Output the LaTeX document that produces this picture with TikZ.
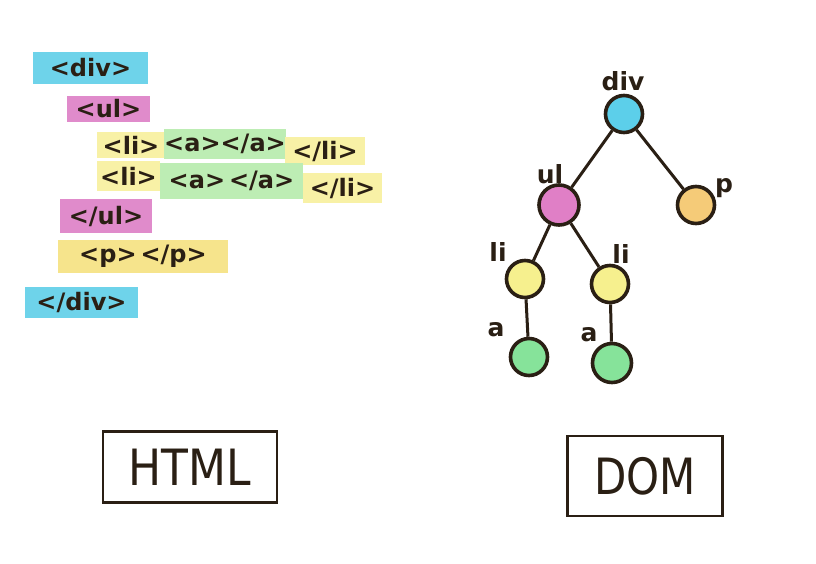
\documentclass[tikz,border=0pt]{standalone}
\usepackage{fontspec}
\setmainfont{DejaVu Sans}
\definecolor{ink}{HTML}{2A1F14}
\definecolor{hcyan}{HTML}{6ED3EA}
\definecolor{hpink}{HTML}{E08BCB}
\definecolor{hyel}{HTML}{F8F1A6}
\definecolor{hgreen}{HTML}{BDEDB4}
\definecolor{hpyel}{HTML}{F6E48C}
\definecolor{ccyan}{HTML}{5CCFEA}
\definecolor{cpink}{HTML}{E07FC6}
\definecolor{corange}{HTML}{F5CB78}
\definecolor{cyel}{HTML}{F6F08E}
\definecolor{cgreen}{HTML}{86E39A}
\tikzset{
  hl/.style={inner sep=0pt, text=ink, font=\fontsize{24}{24}\selectfont\bfseries},
  tnode/.style={circle, draw=ink, line width=3.6pt, minimum size=37pt, inner sep=0pt},
  edge/.style={draw=ink, line width=3pt},
  lab/.style={text=ink, inner sep=0pt, font=\fontsize{25}{25}\selectfont\bfseries},
  bigbox/.style={draw=ink, line width=2.8pt, inner sep=0pt, text=ink, font=\fontsize{40}{40}\selectfont}
}
\begin{document}
\begin{tikzpicture}[x=1pt,y=-1pt]
\useasboundingbox (0,0) rectangle (816,563);
\fill[white] (0,0) rectangle (816,563);
% HTML code highlights
\node[hl, fill=hcyan, minimum width=115pt, minimum height=32pt] (h1) at (90.5,68) {<div>};
\node[hl, fill=hpink, minimum width=83pt, minimum height=26pt] (h2) at (108.5,109) {<ul>};
\node[hl, fill=hyel, minimum width=68pt, minimum height=26pt] (h3a) at (131,145) {<li>};
\node[hl, fill=hgreen, minimum width=120pt, minimum height=30pt] (h3b) at (225,144) {<a></a>};
\node[hl, fill=hyel, minimum width=80pt, minimum height=28pt] (h3c) at (325,151) {</li>};
\node[hl, fill=hyel, minimum width=63pt, minimum height=30pt] (h4a) at (128.5,176) {<li>};
\node[hl, fill=hgreen, minimum width=143pt, minimum height=36pt] (h4b) at (231.5,181) {<a>\,</a>};
\node[hl, fill=hyel, minimum width=79pt, minimum height=30pt] (h4c) at (342.5,188) {</li>};
\node[hl, fill=hpink, minimum width=92pt, minimum height=34pt] (h5) at (106,216) {</ul>};
\node[hl, fill=hpyel, minimum width=170pt, minimum height=33pt] (h6) at (143,256) {<p>\,</p>};
\node[hl, fill=hcyan, minimum width=113pt, minimum height=31pt] (h7) at (81.5,302) {</div>};
% DOM tree
\node[tnode, fill=ccyan] (div) at (624,114) {};
\node[tnode, fill=cpink, minimum size=40pt] (ul) at (559,205) {};
\node[tnode, fill=corange] (p) at (696,205) {};
\node[tnode, fill=cyel] (li1) at (525,279) {};
\node[tnode, fill=cyel] (li2) at (610,284) {};
\node[tnode, fill=cgreen] (a1) at (529,357) {};
\node[tnode, fill=cgreen, minimum size=39pt] (a2) at (612,363) {};
\draw[edge] (div) -- (ul);
\draw[edge] (div) -- (p);
\draw[edge] (ul) -- (li1);
\draw[edge] (ul) -- (li2);
\draw[edge] (li1) -- (a1);
\draw[edge] (li2) -- (a2);
\node[lab] (ldiv) at (623,81) {div};
\node[lab] (lul) at (550,174) {ul};
\node[lab] (lp) at (724,188) {p};
\node[lab] (lli1) at (498,252) {li};
\node[lab] (lli2) at (621,254) {li};
\node[lab] (la1) at (496,330) {a};
\node[lab] (la2) at (589,335) {a};
% labels
\node[bigbox, minimum width=174pt, minimum height=71pt] (html) at (190,467) {\scalebox{1.1}[1.25]{HTML}};
\node[bigbox, minimum width=155pt, minimum height=80pt] (dom) at (645,476) {\scalebox{1.05}[1.25]{DOM}};
\end{tikzpicture}
\end{document}
